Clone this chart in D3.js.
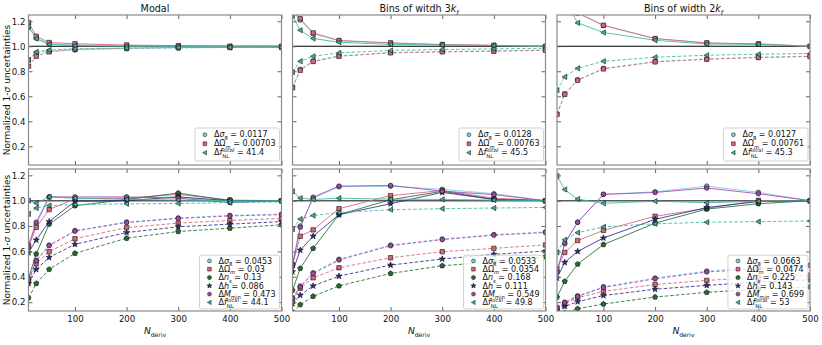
<!DOCTYPE html>
<html>
<head>
<meta charset="utf-8">
<script src="https://cdn.jsdelivr.net/npm/d3@7"></script>
<style>
  body { margin: 0; background: #fff; }
  svg { font-family: "DejaVu Sans", sans-serif; }
  text { white-space: pre; fill: #111; }
</style>
</head>
<body>
<svg width="822" height="345"></svg>
<script>
const nDeriv = [10, 25, 50, 100, 200, 300, 400, 500];
const xTicks = [100, 200, 300, 400, 500];
const yTicks = [0.2, 0.4, 0.6, 0.8, 1.0, 1.2];

// each entry: [solid, dashed]
const topModal = {
  s8:  [[1.15, 1.065, 1.02, 1.01, 1.005, 1.0, 0.998, 1.0], [0.89, 0.945, 0.96, 0.97, 0.98, 0.985, 0.99, 0.99]],
  om:  [[1.19, 1.08, 1.03, 1.02, 1.01, 1.005, 1.0, 1.0], [0.84, 0.92, 0.955, 0.975, 0.985, 0.99, 0.99, 0.99]],
  fnl: [[1.16, 1.06, 1.015, 1.005, 1.0, 1.0, 1.0, 1.0], [0.89, 0.955, 0.97, 0.98, 0.985, 0.99, 0.99, 0.99]]
};
const top3kf = {
  s8:  [[1.28, 1.21, 1.10, 1.045, 1.025, 1.012, 1.007, 1.0], [0.675, 0.815, 0.882, 0.923, 0.95, 0.958, 0.963, 0.97]],
  om:  [[1.29, 1.22, 1.107, 1.046, 1.027, 1.014, 1.008, 1.0], [0.667, 0.808, 0.878, 0.92, 0.947, 0.955, 0.96, 0.968]],
  fnl: [[1.245, 1.128, 1.062, 1.032, 1.015, 1.01, 1.005, 1.0], [0.792, 0.88, 0.92, 0.947, 0.966, 0.974, 0.979, 0.984]]
};
const top2kf = {
  s8:  [[1.88, 1.5, 1.265, 1.165, 1.06, 1.026, 1.018, 1.0], [0.46, 0.62, 0.732, 0.822, 0.878, 0.898, 0.912, 0.92]],
  om:  [[1.9, 1.5, 1.268, 1.168, 1.062, 1.027, 1.019, 1.0], [0.454, 0.616, 0.728, 0.819, 0.875, 0.896, 0.91, 0.918]],
  fnl: [[1.6, 1.37, 1.187, 1.11, 1.048, 1.018, 1.015, 1.0], [0.648, 0.755, 0.824, 0.88, 0.912, 0.928, 0.936, 0.942]]
};
const bottomModal = {
  s8:   [[0.63, 0.81, 1.029, 1.02, 1.02, 1.03, 0.99, 1.0], [0.38, 0.53, 0.65, 0.765, 0.832, 0.864, 0.884, 0.894]],
  om:   [[0.64, 0.79, 0.93, 1.015, 1.02, 1.05, 1.005, 1.0], [0.36, 0.503, 0.598, 0.70, 0.788, 0.823, 0.844, 0.86]],
  ns:   [[0.39, 0.58, 0.815, 0.96, 1.01, 1.06, 1.0, 1.0], [0.233, 0.347, 0.458, 0.585, 0.704, 0.757, 0.783, 0.81]],
  h:    [[0.59, 0.69, 0.835, 0.995, 1.0, 1.03, 1.0, 1.0], [0.347, 0.458, 0.553, 0.656, 0.749, 0.794, 0.815, 0.835]],
  mmin: [[0.65, 0.83, 1.03, 1.03, 1.03, 1.02, 0.985, 1.0], [0.375, 0.525, 0.645, 0.76, 0.828, 0.86, 0.88, 0.89]],
  fnl:  [[1.0, 0.98, 1.03, 1.02, 1.01, 1.005, 1.0, 1.0], [0.895, 0.942, 0.962, 0.97, 0.975, 0.978, 0.985, 0.99]]
};
const bottom3kf = {
  s8:   [[0.5, 0.8, 1.02, 1.11, 1.115, 1.09, 1.055, 1.0], [0.235, 0.327, 0.432, 0.538, 0.65, 0.698, 0.733, 0.754]],
  om:   [[0.49, 0.72, 0.77, 0.937, 1.04, 1.08, 1.02, 1.0], [0.215, 0.31, 0.392, 0.471, 0.55, 0.598, 0.624, 0.651]],
  ns:   [[0.293, 0.466, 0.624, 0.89, 1.008, 1.074, 1.01, 1.0], [0.121, 0.18, 0.246, 0.328, 0.426, 0.487, 0.518, 0.558]],
  h:    [[0.44, 0.61, 0.72, 0.89, 0.976, 1.066, 1.01, 1.0], [0.188, 0.254, 0.328, 0.405, 0.492, 0.54, 0.577, 0.603]],
  mmin: [[0.497, 0.79, 1.027, 1.115, 1.12, 1.075, 1.048, 1.0], [0.228, 0.32, 0.426, 0.532, 0.645, 0.693, 0.728, 0.749]],
  fnl:  [[1.074, 1.02, 1.01, 1.02, 1.012, 1.01, 1.005, 1.0], [0.775, 0.855, 0.883, 0.907, 0.929, 0.937, 0.942, 0.947]]
};
const bottom2kf = {
  s8:   [[0.44, 0.66, 0.83, 1.05, 1.07, 1.115, 1.066, 1.0], [0.16, 0.2, 0.25, 0.322, 0.39, 0.445, 0.47, 0.494]],
  om:   [[0.463, 0.592, 0.686, 0.766, 0.877, 0.939, 1.002, 1.0], [0.14, 0.185, 0.235, 0.285, 0.339, 0.371, 0.396, 0.413]],
  ns:   [[0.24, 0.364, 0.5, 0.654, 0.823, 0.934, 0.976, 1.0], [0.09, 0.116, 0.148, 0.185, 0.24, 0.277, 0.302, 0.32]],
  h:    [[0.389, 0.513, 0.6, 0.706, 0.853, 0.946, 0.993, 1.0], [0.128, 0.166, 0.203, 0.252, 0.302, 0.332, 0.359, 0.376]],
  mmin: [[0.438, 0.666, 0.83, 1.05, 1.065, 1.1, 1.055, 1.0], [0.153, 0.196, 0.245, 0.315, 0.384, 0.438, 0.463, 0.488]],
  fnl:  [[1.195, 1.088, 1.013, 0.979, 0.996, 0.984, 0.996, 1.0], [0.592, 0.692, 0.748, 0.793, 0.818, 0.83, 0.835, 0.84]]
};

const legendTop = [[0.0117, 0.00703, 41.4], [0.0128, 0.00763, 45.5], [0.0127, 0.00761, 45.3]];
const legendBottom = [
  [0.0453, 0.03, 0.13, 0.086, 0.473, 44.1],
  [0.0533, 0.0354, 0.168, 0.111, 0.549, 49.8],
  [0.0663, 0.0474, 0.225, 0.143, 0.699, 53]
];

const titles = [
  [{t: "Modal"}],
  [{t: "Bins of witdh 3"}, {t: "k", i: 1}, {t: "f", i: 1, sub: 1}],
  [{t: "Bins of width 2"}, {t: "k", i: 1}, {t: "f", i: 1, sub: 1}]
];

// marker shapes, r = half width in px
const shapes = {
  circle: r => `M${r},0A${r},${r} 0 1,1 ${-r},0A${r},${r} 0 1,1 ${r},0Z`,
  square: r => `M${-r},${-r}H${r}V${r}H${-r}Z`,
  pentagon: r => d3.range(5).map(k => {
    const a = -Math.PI / 2 + k * 2 * Math.PI / 5;
    return (k ? "L" : "M") + (r * Math.cos(a)).toFixed(2) + "," + (r * Math.sin(a)).toFixed(2);
  }).join("") + "Z",
  star: r => d3.range(10).map(k => {
    const a = -Math.PI / 2 + k * Math.PI / 5, rr = k % 2 ? r * 0.42 : r;
    return (k ? "L" : "M") + (rr * Math.cos(a)).toFixed(2) + "," + (rr * Math.sin(a)).toFixed(2);
  }).join("") + "Z",
  triLeft: r => `M${-r},0L${r * 0.75},${-r}L${r * 0.75},${r}Z`
};

const params = {
  s8:   {color: "#7ccbea", shape: "circle", r: 2.3, label: [{t: "Δ"}, {t: "σ", i: 1}, {t: "8", sub: 1}]},
  om:   {color: "#d6647a", shape: "square", r: 2.2, label: [{t: "ΔΩ"}, {t: "m", i: 1, sub: 1}]},
  ns:   {color: "#1f6e30", shape: "pentagon", r: 2.7, label: [{t: "Δ"}, {t: "n", i: 1}, {t: "s", i: 1, sub: 1}]},
  h:    {color: "#2e2b8e", shape: "star", r: 3.2, label: [{t: "Δ"}, {t: "h", i: 1}]},
  mmin: {color: "#a446a8", shape: "circle", r: 2.3, label: [{t: "Δ"}, {t: "M", i: 1}, {t: "min", sub: 1}]},
  fnl:  {color: "#3cb7a0", shape: "triLeft", r: 2.6, label: [{t: "Δ"}, {t: "f", i: 1}, {t: "local", sup: 1, stack: 1}, {t: "NL", sub: 1}]}
};

const svg = d3.select("svg");
const colLeft = [28.5, 292.5, 557];
const panelW = 253;
const rows = [
  {top: 15, bottom: 165, lo: 0.05, hi: 1.25, data: [topModal, top3kf, top2kf], legend: legendTop,
   keys: ["s8", "om", "fnl"], rowH: 9, gap: 4, pad: 6},
  {top: 169, bottom: 311, lo: 0.13, hi: 1.25, data: [bottomModal, bottom3kf, bottom2kf], legend: legendBottom,
   keys: ["s8", "om", "ns", "h", "mmin", "fnl"], rowH: 8.3, gap: 2, pad: 4}
];

function rich(g, pieces, size) {
  let cx = 0, stackW = 0;
  pieces.forEach(p => {
    const small = p.sub || p.sup;
    const t = g.append("text")
      .attr("x", cx)
      .attr("y", p.sub ? size * 0.3 : p.sup ? -size * 0.45 : 0)
      .attr("font-size", small ? size * 0.66 : size)
      .text(p.t);
    if (p.i) t.attr("font-style", "italic");
    const w = t.node().getComputedTextLength();
    if (p.stack) stackW = w;
    else { cx += Math.max(w, stackW); stackW = 0; }
  });
  return cx;
}

function centered(parent, pieces, size, transform) {
  const g = parent.append("g");
  const w = rich(g, pieces, size);
  g.attr("transform", transform + ` translate(${-w / 2},0)`);
}

rows.forEach((row, r) => {
  colLeft.forEach((left, c) => {
    const right = left + panelW;
    const x = d3.scaleLinear().domain([10, 500]).range([left, right]);
    const y = d3.scaleLinear().domain([row.lo, row.hi]).range([row.bottom, row.top]);
    const clipId = `clip${r}${c}`;
    svg.append("clipPath").attr("id", clipId)
      .append("rect").attr("x", left).attr("y", row.top).attr("width", panelW).attr("height", row.bottom - row.top);

    const plot = svg.append("g").attr("clip-path", `url(#${clipId})`);
    plot.append("line")
      .attr("x1", left).attr("x2", right).attr("y1", y(1)).attr("y2", y(1))
      .attr("stroke", r === 0 ? "#000" : "#5a5a5a").attr("stroke-width", r === 0 ? 1.1 : 1.6);

    const data = row.data[c];
    const line = d3.line().x((d, i) => x(nDeriv[i])).y(d => y(d));
    row.keys.forEach(k => {
      const p = params[k];
      data[k].forEach((vals, j) => {
        plot.append("path").datum(vals)
          .attr("d", line).attr("fill", "none")
          .attr("stroke", p.color).attr("stroke-width", 1).attr("stroke-opacity", 0.85)
          .attr("stroke-dasharray", j === 1 ? "3.5,2" : null);
        plot.selectAll(null).data(vals).join("path")
          .attr("transform", (d, i) => `translate(${x(nDeriv[i])},${y(d)})`)
          .attr("d", shapes[p.shape](p.r))
          .attr("fill", p.color).attr("stroke", "#111").attr("stroke-width", 0.6);
      });
    });

    // frame and inward ticks on all four sides
    const axes = [
      {axis: d3.axisBottom(x).tickValues(xTicks).tickSize(-4).tickPadding(5)
        .tickFormat(r === 1 ? d3.format("d") : () => ""), tr: `translate(0,${row.bottom})`},
      {axis: d3.axisTop(x).tickValues(xTicks).tickSize(-4).tickFormat(() => ""), tr: `translate(0,${row.top})`},
      {axis: d3.axisLeft(y).tickValues(yTicks).tickSize(-4).tickPadding(3)
        .tickFormat(c === 0 ? d3.format(".1f") : () => ""), tr: `translate(${left},0)`},
      {axis: d3.axisRight(y).tickValues(yTicks).tickSize(-4).tickFormat(() => ""), tr: `translate(${right},0)`}
    ];
    axes.forEach(a => {
      const g = svg.append("g").attr("transform", a.tr).call(a.axis);
      g.select(".domain").remove();
      g.selectAll(".tick line").attr("stroke", "#666");
      g.selectAll(".tick text").attr("font-size", 8.6).attr("fill", "#111")
        .attr("font-family", "DejaVu Sans");
    });
    svg.append("rect").attr("x", left).attr("y", row.top).attr("width", panelW).attr("height", row.bottom - row.top)
      .attr("fill", "none").attr("stroke", "#8a8a8a").attr("stroke-width", 1.2);

    // legend
    const lg = svg.append("g");
    const fs = 8;
    const items = row.keys.map((k, i) => {
      const g = lg.append("g");
      const v = row.legend[c][i];
      const w = rich(g, params[k].label.concat([{t: " = " + v}]), fs);
      return {g, w, k};
    });
    const boxW = 20 + d3.max(items, d => d.w) + 3;
    const boxH = items.length * row.rowH + row.pad;
    const bx = right - 2 - boxW;
    const by = row.bottom - row.gap - boxH;
    lg.insert("rect", ":first-child")
      .attr("x", bx).attr("y", by).attr("width", boxW).attr("height", boxH).attr("rx", 2)
      .attr("fill", "#fff").attr("fill-opacity", 0.8).attr("stroke", "#c8c8c8").attr("stroke-width", 0.8);
    items.forEach((it, i) => {
      const base = by + row.pad / 2 + row.rowH * i + 6.4;
      it.g.attr("transform", `translate(${bx + 19},${base})`);
      const p = params[it.k];
      lg.append("path").attr("transform", `translate(${bx + 10},${base - 2.7})`)
        .attr("d", shapes[p.shape](p.r * 0.85))
        .attr("fill", p.color).attr("stroke", "#111").attr("stroke-width", 0.5);
    });

    if (r === 0) centered(svg, titles[c], 9.6, `translate(${(left + right) / 2},12)`);
    if (r === 1) centered(svg, [{t: "N", i: 1}, {t: "deriv", sub: 1}], 9.2, `translate(${(left + right) / 2},334)`);
  });
  centered(svg, [{t: "Normalized 1-"}, {t: "σ", i: 1}, {t: " uncertainties"}], 9,
    `translate(9.5,${(row.top + row.bottom) / 2}) rotate(-90)`);
});
</script>
</body>
</html>
